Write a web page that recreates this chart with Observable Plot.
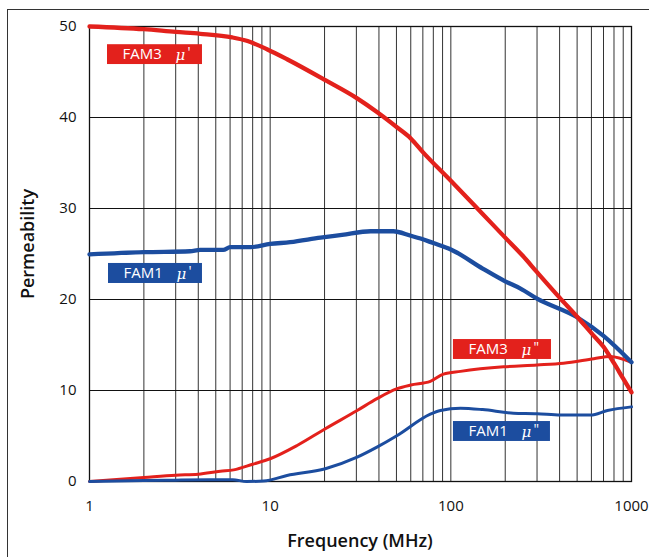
<!DOCTYPE html>
<html><head><meta charset="utf-8">
<script src="https://cdn.jsdelivr.net/npm/d3@7"></script>
<script src="https://cdn.jsdelivr.net/npm/@observablehq/plot@0.6"></script>
<style>
body{margin:0;background:#fff;overflow:hidden;width:649px;height:557px;position:relative;font-family:"Open Sans",sans-serif}
#frame{position:absolute;left:7px;top:9px;width:700px;height:700px;border:1.5px solid #333;box-sizing:border-box}
#chart{position:absolute;left:0;top:0}
</style></head><body>
<div id="frame"></div><div id="chart"></div>
<script>
// ---- data ----
const fam3MuPrimeFreq = [1, 2, 3, 4.1, 6.16, 7.5, 9.6, 12.4, 20.2, 30.3, 39, 50.5, 60, 70, 100, 150, 200, 250, 300, 400, 500, 600, 700, 800, 900, 1000];
const fam3MuPrimeVal  = [50, 49.7, 49.4, 49.2, 48.8, 48.4, 47.5, 46.4, 44.1, 42.1, 40.6, 38.9, 37.7, 36.2, 33.05, 29.4, 26.8, 24.8, 23.0, 20.2, 18.1, 16.3, 14.8, 13.0, 11.3, 9.8];

const fam1MuPrimeFreq = [1, 2, 3.6, 4.1, 5.5, 6, 7.8, 10, 12.9, 19, 25, 36, 48, 60, 68, 80, 100, 150, 200, 243, 300, 500, 700, 1000];
const fam1MuPrimeVal  = [24.95, 25.2, 25.3, 25.45, 25.45, 25.75, 25.75, 26.1, 26.3, 26.8, 27.1, 27.5, 27.5, 27.0, 26.7, 26.2, 25.5, 23.4, 22.0, 21.2, 20.1, 18.05, 16.0, 13.1];

const fam3MuDoubleFreq = [1, 2, 3, 4, 5.3, 6.28, 8, 10, 14.1, 20.2, 30.3, 39, 50.5, 60, 77, 91, 113, 196, 300, 420, 619, 763, 1000];
const fam3MuDoubleVal  = [0, 0.45, 0.7, 0.8, 1.13, 1.28, 1.9, 2.5, 3.96, 5.8, 7.8, 9.1, 10.2, 10.6, 11.0, 11.8, 12.1, 12.6, 12.8, 13.0, 13.5, 13.75, 13.1];

const fam1MuDoubleFreq = [1, 2, 3, 5.3, 6.2, 7.4, 9.2, 12.4, 20.2, 30.3, 39, 50.5, 77, 87.6, 113, 150, 222, 300, 405, 594, 736, 1000];
const fam1MuDoubleVal  = [0, 0.1, 0.15, 0.19, 0.19, 0, 0.05, 0.66, 1.4, 2.67, 3.77, 5.05, 7.4, 7.8, 8.05, 7.9, 7.5, 7.45, 7.3, 7.3, 7.8, 8.2];

const xTickLabels = [1, 10, 100, 1000];
const yTickLabels = [0, 10, 20, 30, 40, 50];

const labelNames   = ["FAM3", "FAM1", "FAM3", "FAM1"];
const labelPrimes  = ["'", "'", "\"", "\""];
const labelColors  = ["#e3211c", "#1c4d9f", "#e3211c", "#1c4d9f"];
const labelF1 = [1.258, 1.274, 103.4, 103.4];
const labelF2 = [4.22, 4.22, 360.6, 356];
const labelV1 = [48.0, 23.96, 15.6, 6.59];
const labelV2 = [45.82, 21.76, 13.41, 4.40];

const RED = "#e3211c", BLUE = "#1c4d9f";

// ---- build tables ----
const toRows = (fs, vs) => fs.map((f, i) => ({f, v: vs[i]}));
const fam3P = toRows(fam3MuPrimeFreq, fam3MuPrimeVal);
const fam1P = toRows(fam1MuPrimeFreq, fam1MuPrimeVal);
const fam3D = toRows(fam3MuDoubleFreq, fam3MuDoubleVal);
const fam1D = toRows(fam1MuDoubleFreq, fam1MuDoubleVal);

const gridFreqs = [];
for (const d of [1, 10, 100]) for (let k = 2; k <= 10; k++) gridFreqs.push(d * k);
gridFreqs.pop();

const labels = labelNames.map((n, i) => ({
  name: n, prime: labelPrimes[i], color: labelColors[i],
  f1: labelF1[i], f2: labelF2[i], v1: labelV1[i], v2: labelV2[i],
  vm: (labelV1[i] + labelV2[i]) / 2
}));

const plot = Plot.plot({
  width: 649, height: 557,
  marginLeft: 89, marginRight: 18, marginTop: 26, marginBottom: 76,
  style: {fontFamily: "'Open Sans', sans-serif", fontSize: "15px", color: "#111", background: "transparent"},
  x: {type: "log", domain: [1, 1000]},
  y: {domain: [0, 50]},
  marks: [
    Plot.ruleX(gridFreqs, {stroke: "#333", strokeWidth: 1}),
    Plot.ruleY([10, 20, 30, 40], {stroke: "#111", strokeWidth: 1}),
    Plot.frame({stroke: "#111", strokeWidth: 1.3}),
    Plot.rect(labels, {x1: "f1", x2: "f2", y1: "v1", y2: "v2", fill: "color"}),
    Plot.text(labels, {x: "f1", y: "vm", text: "name", textAnchor: "start", dx: 15, fill: "white", fontSize: 15, lineAnchor: "middle"}),
    Plot.text(labels, {x: "f1", y: "vm", text: () => "μ", textAnchor: "start", dx: 68, dy: 1, fill: "white", fontSize: 15, fontStyle: "italic", fontWeight: 300, fontFamily: "'DejaVu Serif', serif", lineAnchor: "middle"}),
    Plot.text(labels, {x: "f1", y: "vm", text: "prime", textAnchor: "start", dx: 80, dy: -2, fill: "white", fontSize: 14, lineAnchor: "middle"}),
    Plot.line(fam3D, {x: "f", y: "v", stroke: RED, strokeWidth: 3, curve: "monotone-x"}),
    Plot.line(fam1D, {x: "f", y: "v", stroke: BLUE, strokeWidth: 3, curve: "monotone-x"}),
    Plot.line(fam1P, {x: "f", y: "v", stroke: BLUE, strokeWidth: 4.3, curve: "monotone-x"}),
    Plot.line(fam3P, {x: "f", y: "v", stroke: RED, strokeWidth: 4.3, curve: "monotone-x"}),
    Plot.axisX({ticks: xTickLabels, tickFormat: d => String(d), tickSize: 0, tickPadding: 19, fontSize: 15, label: null}),
    Plot.axisY({ticks: yTickLabels, tickSize: 0, tickPadding: 13, fontSize: 15, label: null})
  ]
});
document.getElementById("chart").appendChild(plot);

const svg = d3.select(plot);
svg.append("text").attr("x", 360).attr("y", 547).attr("text-anchor", "middle")
  .attr("font-size", 18).attr("font-weight", 600).attr("fill", "#111")
  .attr("font-family", "'Open Sans', sans-serif").text("Frequency (MHz)");
svg.append("text").attr("transform", "translate(34,244) rotate(-90)").attr("text-anchor", "middle")
  .attr("font-size", 18).attr("font-weight", 600).attr("fill", "#111")
  .attr("font-family", "'Open Sans', sans-serif").text("Permeability");
</script>
</body></html>
